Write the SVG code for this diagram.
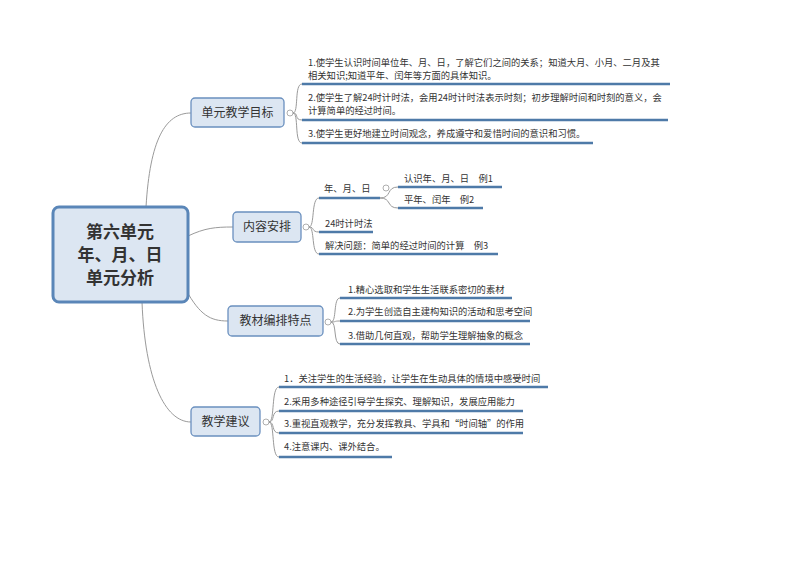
<svg xmlns="http://www.w3.org/2000/svg" width="800" height="566" viewBox="0 0 800 566">
<style>
.bg{fill:#ffffff}
.root{fill:#dce6f2;stroke:#5a86b8;stroke-width:3}
.br{fill:#dce6f2;stroke:#6a90bf;stroke-width:1.3}
.rt{font-family:"Noto Sans CJK SC","Noto Sans",sans-serif;font-size:17px;font-weight:bold;fill:#333333;text-anchor:middle}
.bt{font-family:"Noto Sans CJK SC","Noto Sans",sans-serif;font-size:12px;fill:#333333;text-anchor:middle}
.lt{font-family:"Noto Sans CJK SC","Noto Sans",sans-serif;font-size:9.3px;fill:#333333}
.ul{stroke:#4e7aa8;stroke-width:2.5;fill:none}
.cn{stroke:#9a9a9a;stroke-width:1;fill:none}
.cc{fill:#ffffff;stroke:#9a9a9a;stroke-width:0.8}
</style>
<rect class="bg" x="0" y="0" width="800" height="566"/>
<g id="connectors">
<path class="cn" d="M146,207 C150,140 165,113 191,113"/>
<path class="cn" d="M188,236 C205,228 215,227 233,227"/>
<path class="cn" d="M186,290 C200,315 210,321 228,321"/>
<path class="cn" d="M142,302 C145,380 165,422 191,422"/>
<path class="cn" d="M293,113 C299,113 294,84 302,84"/>
<path class="cn" d="M293,113 C299,113 294,120 302,120"/>
<path class="cn" d="M293,113 C299,113 294,143 302,143"/>
<path class="cn" d="M309,227 C315,227 311,198 319,198"/>
<path class="cn" d="M309,227 C315,227 311,232 319,232"/>
<path class="cn" d="M309,227 C315,227 311,254 319,254"/>
<path class="cn" d="M380,198 C392,198 386,187 398,187"/>
<path class="cn" d="M380,198 C392,198 386,208 398,208"/>
<path class="cn" d="M331,322 C337,322 333,298 340,298"/>
<path class="cn" d="M331,322 C337,322 333,321 340,321"/>
<path class="cn" d="M331,322 C337,322 333,344 340,344"/>
<path class="cn" d="M269,422 C275,422 271,387 279,387"/>
<path class="cn" d="M269,422 C275,422 271,411 279,411"/>
<path class="cn" d="M269,422 C275,422 271,433 279,433"/>
<path class="cn" d="M269,422 C275,422 271,457 279,457"/>
</g>
<g id="root">
<rect class="root" x="53" y="207" width="135" height="95" rx="6"/>
<text class="rt" x="120" y="238">第六单元</text>
<text class="rt" x="120" y="261">年、月、日</text>
<text class="rt" x="120" y="284">单元分析</text>
</g>
<g id="goal">
<rect class="br" x="191" y="98" width="93" height="29" rx="4"/>
<text class="bt" x="237.5" y="117">单元教学目标</text>
<circle class="cc" cx="290" cy="113" r="3"/>
</g>
<g id="goal-1">
<text class="lt" x="308" y="66">1.使学生认识时间单位年、月、日，了解它们之间的关系；知道大月、小月、二月及其</text>
<text class="lt" x="308" y="79">相关知识;知道平年、闰年等方面的具体知识。</text>
<line class="ul" x1="302" y1="84" x2="670" y2="84"/>
</g>
<g id="goal-2">
<text class="lt" x="308" y="101">2.使学生了解24时计时法，会用24时计时法表示时刻；初步理解时间和时刻的意义，会</text>
<text class="lt" x="308" y="114">计算简单的经过时间。</text>
<line class="ul" x1="302" y1="120" x2="668" y2="120"/>
</g>
<g id="goal-3">
<text class="lt" x="308" y="137">3.使学生更好地建立时间观念，养成遵守和爱惜时间的意识和习惯。</text>
<line class="ul" x1="302" y1="143" x2="593" y2="143"/>
</g>
<g id="content">
<rect class="br" x="233" y="212" width="68" height="30" rx="4"/>
<text class="bt" x="267" y="231">内容安排</text>
<circle class="cc" cx="306" cy="227" r="3"/>
</g>
<g id="content-1">
<text class="lt" x="324" y="192">年、月、日</text>
<line class="ul" x1="319" y1="198" x2="380" y2="198"/>
<circle class="cc" cx="386" cy="188" r="3"/>
</g>
<g id="content-1a">
<text class="lt" x="404" y="182">认识年、月、日　例1</text>
<line class="ul" x1="398" y1="187" x2="502" y2="187"/>
</g>
<g id="content-1b">
<text class="lt" x="404" y="203">平年、闰年　例2</text>
<line class="ul" x1="398" y1="208" x2="483" y2="208"/>
</g>
<g id="content-2">
<text class="lt" x="325" y="227">24时计时法</text>
<line class="ul" x1="319" y1="232" x2="373" y2="232"/>
</g>
<g id="content-3">
<text class="lt" x="325" y="249">解决问题：简单的经过时间的计算　例3</text>
<line class="ul" x1="319" y1="254" x2="498" y2="254"/>
</g>
<g id="material">
<rect class="br" x="228" y="306" width="95" height="30" rx="4"/>
<text class="bt" x="275.5" y="325">教材编排特点</text>
<circle class="cc" cx="328" cy="322" r="3"/>
</g>
<g id="material-1">
<text class="lt" x="348" y="293">1.精心选取和学生生活联系密切的素材</text>
<line class="ul" x1="340" y1="298" x2="512" y2="298"/>
</g>
<g id="material-2">
<text class="lt" x="348" y="315">2.为学生创造自主建构知识的活动和思考空间</text>
<line class="ul" x1="340" y1="321" x2="530" y2="321"/>
</g>
<g id="material-3">
<text class="lt" x="348" y="339">3.借助几何直观，帮助学生理解抽象的概念</text>
<line class="ul" x1="340" y1="344" x2="530" y2="344"/>
</g>
<g id="advice">
<rect class="br" x="191" y="407" width="69" height="29" rx="4"/>
<text class="bt" x="225.5" y="426">教学建议</text>
<circle class="cc" cx="266" cy="422" r="3"/>
</g>
<g id="advice-1">
<text class="lt" x="284" y="382">1．关注学生的生活经验，让学生在生动具体的情境中感受时间</text>
<line class="ul" x1="279" y1="387" x2="548" y2="387"/>
</g>
<g id="advice-2">
<text class="lt" x="284" y="405">2.采用多种途径引导学生探究、理解知识，发展应用能力</text>
<line class="ul" x1="279" y1="411" x2="523" y2="411"/>
</g>
<g id="advice-3">
<text class="lt" x="284" y="427">3.重视直观教学，充分发挥教具、学具和“时间轴”的作用</text>
<line class="ul" x1="279" y1="433" x2="523" y2="433"/>
</g>
<g id="advice-4">
<text class="lt" x="284" y="450">4.注意课内、课外结合。</text>
<line class="ul" x1="279" y1="457" x2="392" y2="457"/>
</g>
</svg>
